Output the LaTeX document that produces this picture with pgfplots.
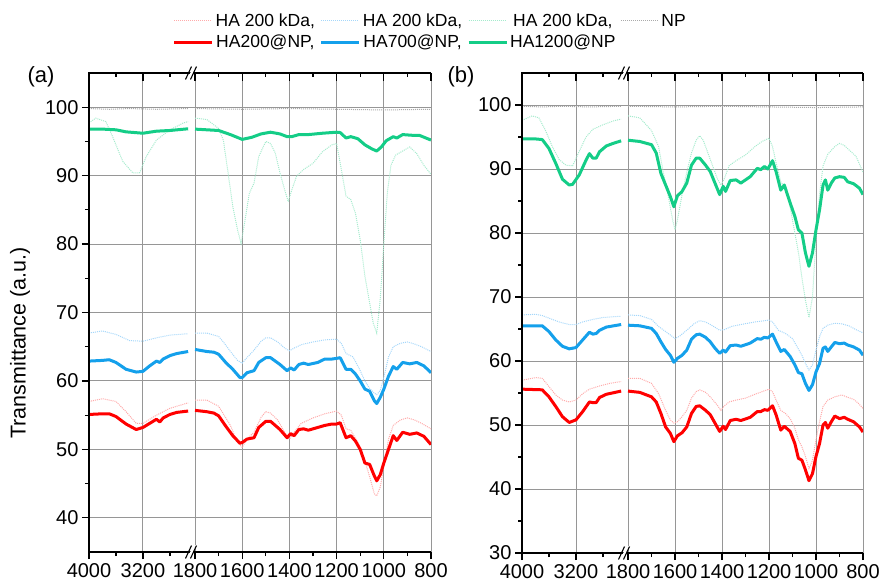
\documentclass[border=0pt]{standalone}
\usepackage{fontspec}
\setmainfont{Liberation Sans}
\usepackage{pgfplots}
\usepackage{pgfplotstable}
\pgfplotsset{compat=1.18}

\definecolor{cRed}{RGB}{255,0,0}
\definecolor{cBlue}{RGB}{20,160,235}
\definecolor{cGreen}{RGB}{20,205,135}
\definecolor{cRedL}{RGB}{255,170,170}
\definecolor{cBlueL}{RGB}{165,215,250}
\definecolor{cGreenL}{RGB}{165,235,205}
\definecolor{cGreyL}{RGB}{170,170,170}
\definecolor{gridc}{RGB}{150,150,150}

% ---------------- panel (a) ----------------
\pgfplotstableread{
x y
4000 55.1
3800 55.2
3700 55.2
3600 54.8
3450 53.7
3300 52.9
3200 53.2
3100 53.8
3000 54.4
2950 54.0
2900 54.6
2800 55.1
2700 55.4
2530 55.6
1800 55.7
1750 55.5
1720 55.3
1700 54.9
1670 53.4
1640 52.0
1610 50.9
1600 51.0
1580 51.5
1550 51.7
1530 53.2
1500 54.1
1480 54.1
1460 53.5
1440 52.9
1410 51.7
1395 52.3
1380 52.0
1360 52.9
1340 53.0
1320 52.8
1280 53.2
1250 53.5
1220 53.7
1200 53.7
1185 53.9
1160 51.7
1140 52.0
1120 51.2
1100 50.0
1080 48.0
1060 47.8
1040 46.1
1030 45.4
1015 46.3
1000 48.0
980 50.0
960 52.0
945 51.3
920 52.5
890 52.2
860 52.4
830 51.9
800 50.7
}\aRed

\pgfplotstableread{
x y
4000 62.9
3800 63.0
3700 63.1
3600 62.7
3450 61.7
3300 61.3
3200 61.4
3100 62.2
3000 62.9
2950 62.7
2900 63.2
2800 63.7
2700 64.0
2530 64.3
1800 64.6
1750 64.3
1720 64.2
1700 63.9
1670 62.7
1640 61.7
1610 60.5
1600 60.5
1580 61.2
1550 61.5
1530 62.7
1500 63.4
1480 63.4
1460 62.9
1440 62.4
1410 61.5
1395 61.9
1380 61.6
1360 62.4
1340 62.6
1320 62.4
1280 62.7
1250 63.2
1220 63.2
1200 63.3
1185 63.4
1160 61.7
1140 61.7
1120 61.0
1100 60.0
1080 58.8
1060 58.5
1040 57.1
1030 56.7
1015 57.6
1000 58.8
980 60.7
960 62.1
945 61.7
920 62.7
890 62.5
860 62.7
830 62.2
800 61.2
}\aBlue

\pgfplotstableread{
x y
4000 96.8
3800 96.8
3600 96.7
3450 96.4
3200 96.2
3000 96.5
2800 96.6
2530 96.85
1800 96.8
1700 96.6
1650 96.0
1600 95.3
1560 95.6
1520 96.1
1480 96.35
1440 96.1
1410 95.7
1390 95.7
1360 96.0
1320 96.0
1260 96.2
1200 96.35
1185 96.3
1160 95.5
1140 95.7
1110 95.4
1080 94.5
1050 93.9
1030 93.6
1010 94.2
990 95.1
960 95.7
945 95.5
920 96.0
880 95.9
850 95.9
800 95.2
}\aGreen

\pgfplotstableread{
x y
4000 57.0
3800 57.4
3600 57.0
3450 55.5
3300 53.8
3200 53.8
3000 55.0
2800 56.0
2530 56.8
1800 57.2
1750 57.2
1700 56.3
1650 53.5
1620 51.0
1600 50.3
1580 51.5
1550 52.5
1520 54.7
1500 55.5
1480 55.3
1450 54.3
1420 52.5
1400 51.5
1380 52.5
1350 53.8
1300 54.6
1250 55.2
1200 55.6
1180 55.0
1160 53.0
1140 52.8
1110 51.0
1080 48.3
1060 46.0
1040 43.5
1030 43.2
1015 44.5
1000 47.5
980 51.5
960 53.5
930 54.3
900 54.6
870 54.3
840 53.8
800 53.0
}\aRedL

\pgfplotstableread{
x y
4000 67.0
3800 67.3
3600 66.8
3400 65.9
3200 65.8
3000 66.3
2800 66.7
2530 66.9
1800 67.0
1750 67.0
1700 66.5
1680 65.7
1650 64.3
1620 63.0
1600 62.6
1580 63.4
1550 64.5
1520 65.8
1500 66.3
1480 66.3
1450 65.7
1420 64.8
1400 64.4
1380 64.8
1350 65.3
1300 65.7
1250 66.0
1200 66.1
1180 65.5
1160 64.0
1130 63.5
1100 61.5
1080 60.0
1060 58.9
1040 58.2
1030 58.0
1015 58.6
1000 60.5
980 63.5
960 65.0
930 65.5
900 65.7
870 65.4
840 65.0
800 64.3
}\aBlueL

\pgfplotstableread{
x y
4000 97.7
3900 98.4
3750 97.9
3650 95.7
3500 92.1
3350 90.4
3250 90.4
3150 92.8
3000 95.2
2800 96.7
2600 97.7
2530 97.9
1800 98.4
1750 98.2
1700 96.9
1680 95.2
1660 90.4
1640 85.5
1620 82.1
1605 80.1
1590 83.1
1570 87.4
1550 88.9
1530 92.8
1500 95.0
1480 94.7
1460 93.3
1440 90.4
1420 87.9
1405 86.2
1390 87.9
1370 89.9
1340 90.9
1300 91.8
1260 93.5
1220 94.5
1200 94.7
1180 90.9
1160 87.0
1140 86.5
1120 84.5
1100 80.6
1080 75.3
1060 71.4
1045 68.5
1030 67.0
1015 72.0
1000 80.0
985 87.5
970 91.5
950 93.0
920 93.6
890 94.2
860 93.2
830 91.5
800 90.2
}\aGreenL

% ---------------- panel (b) ----------------
\pgfplotstableread{
x y
4000 55.6
3700 55.5
3600 54.4
3500 52.9
3400 51.3
3300 50.4
3200 50.8
3100 52.1
3000 53.6
2950 53.5
2900 53.5
2850 54.3
2750 54.8
2530 55.3
1800 55.3
1750 55.1
1700 54.4
1680 53.6
1660 51.8
1640 49.7
1620 48.7
1605 47.4
1590 48.3
1570 48.8
1550 49.7
1530 51.8
1510 52.9
1495 53.0
1470 52.3
1450 51.6
1430 50.3
1410 49.0
1395 49.8
1385 49.3
1365 50.7
1340 50.9
1320 50.7
1280 51.2
1250 52.1
1235 52.1
1220 52.4
1205 52.3
1185 53.0
1170 51.6
1150 49.2
1135 49.8
1110 49.0
1090 47.1
1075 44.8
1060 44.5
1045 43.0
1030 41.3
1015 42.4
1000 45.1
985 47.1
970 50.0
960 50.4
950 49.5
935 50.5
920 51.4
900 51.0
880 51.2
865 50.9
840 50.5
815 49.7
800 48.9
}\bRed

\pgfplotstableread{
x y
4000 65.5
3800 65.5
3700 65.5
3600 64.6
3500 63.3
3400 62.3
3300 61.9
3200 62.1
3100 63.3
3000 64.5
2950 64.2
2900 64.3
2850 64.8
2750 65.3
2530 65.7
1800 65.6
1750 65.5
1700 65.1
1680 64.3
1660 63.0
1640 61.8
1620 60.9
1605 59.8
1590 60.4
1570 60.9
1550 61.7
1530 63.4
1510 64.1
1495 64.2
1470 63.7
1450 63.0
1430 62.0
1410 61.2
1395 61.7
1385 61.4
1365 62.4
1340 62.5
1320 62.3
1280 62.8
1250 63.5
1235 63.4
1220 63.7
1205 63.6
1185 64.2
1170 63.0
1150 61.5
1135 61.8
1110 60.7
1090 59.4
1075 58.2
1060 58.0
1045 56.5
1030 55.4
1015 56.3
1000 58.3
985 59.6
970 62.0
960 62.2
950 61.5
935 62.2
920 62.9
900 62.7
880 62.8
865 62.5
840 62.2
815 61.7
800 60.9
}\bBlue

\pgfplotstableread{
x y
4000 94.7
3800 94.7
3700 94.6
3600 93.2
3500 90.9
3400 88.4
3300 87.5
3250 87.6
3150 89.1
3050 91.4
3000 92.4
2950 91.7
2900 91.7
2850 92.7
2750 93.6
2650 94.0
2530 94.4
1800 94.5
1750 94.3
1700 93.8
1680 92.5
1660 89.3
1640 87.5
1620 85.7
1605 84.1
1590 85.8
1570 86.5
1550 87.8
1530 90.6
1510 91.7
1495 91.7
1470 90.6
1450 89.6
1430 87.8
1410 86.0
1395 87.3
1385 86.5
1365 88.2
1340 88.3
1320 87.8
1280 88.8
1250 90.1
1235 89.9
1220 90.4
1205 90.0
1185 91.3
1170 89.6
1150 86.7
1135 87.5
1110 84.7
1090 82.6
1075 80.5
1060 80.0
1045 76.9
1030 74.8
1015 76.9
1000 80.5
985 83.6
970 87.5
960 88.3
950 86.7
935 87.8
920 88.6
900 88.8
880 88.7
865 88.0
840 87.7
815 87.0
800 86.0
}\bGreen

\pgfplotstableread{
x y
4000 57.0
3800 57.4
3700 57.3
3600 56.0
3500 54.7
3400 53.9
3300 53.6
3200 53.9
3100 54.9
3000 55.6
2850 56.1
2700 56.5
2530 56.8
1800 57.3
1750 57.3
1700 56.5
1670 54.9
1640 52.3
1620 50.8
1605 50.3
1590 50.5
1570 51.3
1550 52.3
1530 54.2
1510 55.2
1495 55.5
1470 55.1
1450 54.4
1420 53.1
1405 52.3
1390 53.0
1370 53.6
1340 53.9
1300 54.2
1260 54.8
1230 55.2
1200 55.6
1185 55.2
1170 53.9
1150 52.3
1130 51.8
1110 51.0
1090 49.5
1075 47.7
1060 46.6
1045 45.1
1030 43.2
1015 44.5
1000 47.7
985 50.5
970 52.9
950 53.9
920 54.4
890 54.7
870 54.4
840 54.0
820 53.4
800 52.6
}\bRedL

\pgfplotstableread{
x y
4000 67.2
3800 67.3
3700 67.1
3600 66.7
3450 66.1
3300 65.7
3200 65.7
3100 66.1
2950 66.5
2800 66.8
2530 67.0
1800 67.2
1750 67.1
1700 66.5
1670 65.4
1640 64.6
1610 63.8
1600 63.5
1580 63.9
1550 64.8
1520 65.8
1495 66.3
1470 66.1
1440 65.5
1410 64.8
1390 64.9
1360 65.4
1320 65.7
1260 66.1
1200 66.4
1185 66.1
1160 64.8
1130 64.3
1100 63.5
1080 62.2
1060 60.9
1045 59.6
1030 58.6
1015 59.4
1000 61.7
985 63.8
970 65.1
950 65.6
920 65.9
890 65.8
860 65.5
830 64.9
800 64.4
}\bBlueL

\pgfplotstableread{
x y
4000 97.6
3850 98.3
3750 98.0
3650 96.0
3550 93.5
3450 91.5
3350 90.6
3250 90.5
3150 92.8
3050 95.0
2950 96.2
2800 96.9
2650 97.5
2530 97.8
1800 98.3
1750 98.0
1700 96.0
1670 93.5
1650 89.5
1630 86.0
1610 82.0
1600 80.5
1590 82.0
1570 86.0
1550 89.5
1530 92.5
1510 94.5
1495 95.2
1480 94.5
1460 92.5
1440 90.5
1420 88.5
1405 87.5
1390 88.5
1370 90.5
1340 91.3
1300 92.2
1260 93.5
1230 94.3
1200 94.8
1185 93.5
1170 91.0
1150 88.0
1130 87.0
1110 84.0
1090 80.0
1075 77.0
1060 73.0
1045 69.5
1030 66.8
1015 70.0
1000 79.0
985 86.0
970 90.5
950 92.3
920 93.5
900 94.0
880 93.7
860 93.0
830 92.0
800 89.5
}\bGreenL

% bare nanoparticles, shared by both panels
\pgfplotstableread{
x y
4000 99.8
3700 99.7
3400 99.8
3000 99.7
2530 99.8
1800 99.8
1600 99.7
1400 99.8
1200 99.7
1000 99.6
800 99.7
}\npRef

\tikzset{
  axpen/.style={black, line width=1.6pt},
  tickpen/.style={black, line width=1.2pt},
}

\pgfplotsset{
  ftir/.style={
    scale only axis,
    x dir=reverse,
    axis line style={draw=none},
    clip mode=individual,
    tick align=outside,
    xtick pos=bottom, ytick pos=left,
    major tick length=7pt, minor tick length=4pt,
    every tick/.style={black, line width=1.2pt},
    grid=major,
    major grid style={gridc, line width=0.9pt},
    ticklabel style={font=\fontsize{20}{23}\selectfont},
    /pgf/number format/assume math mode=true,
    xticklabel style={yshift=-1pt},
  },
  refR/.style={cRedL, densely dotted, line width=1pt},
  refB/.style={cBlueL, densely dotted, line width=1pt},
  refG/.style={cGreenL, densely dotted, line width=1pt},
  refN/.style={cGreyL, densely dotted, line width=1pt},
  solR/.style={cRed, line width=3pt, line join=round},
  solB/.style={cBlue, line width=3pt, line join=round},
  solG/.style={cGreen, line width=3pt, line join=round},
}

% all seven curves of one panel on one x segment
\newcommand{\curves}[6]{%
  \addplot[refR, restrict x to domain=\dmin:\dmax, forget plot] table {#1};
  \addplot[refB, restrict x to domain=\dmin:\dmax, forget plot] table {#2};
  \addplot[refG, restrict x to domain=\dmin:\dmax, forget plot] table {#3};
  \addplot[refN, restrict x to domain=\dmin:\dmax, forget plot] table {\npRef};
  \addplot[solR, restrict x to domain=\dmin:\dmax, forget plot] table {#4};
  \addplot[solB, restrict x to domain=\dmin:\dmax, forget plot] table {#5};
  \addplot[solG, restrict x to domain=\dmin:\dmax, forget plot] table {#6};
}

\newcommand{\leftframe}{%
  \draw[axpen] (rel axis cs:1,1) -- (rel axis cs:0,1) -- (rel axis cs:0,0) -- (rel axis cs:1,0);
  \pgfplotsinvokeforeach{4000,3200}{\draw[tickpen] (axis cs:##1,105) -- ++(0pt,-8pt);}
  \pgfplotsinvokeforeach{3600,2800}{\draw[tickpen] (axis cs:##1,105) -- ++(0pt,-4pt);}
}
\newcommand{\rightframe}{%
  \draw[axpen] (rel axis cs:0,1) -- (rel axis cs:1,1);
  \draw[axpen] (rel axis cs:0,0) -- (rel axis cs:1,0);
  \pgfplotsinvokeforeach{1800,1600,1400,1200,1000,800}{\draw[tickpen] (axis cs:##1,105) -- ++(0pt,-8pt);}
  \pgfplotsinvokeforeach{1700,1500,1300,1100,900}{\draw[tickpen] (axis cs:##1,105) -- ++(0pt,-4pt);}
}

% "//" break mark centred at (#1,#2)
\newcommand{\breakmark}[2]{%
  \fill[white] (#1-4pt,#2-6pt) -- (#1+2pt,#2+7pt) -- (#1+5pt,#2+7pt) -- (#1-1pt,#2-6pt) -- cycle;
  \draw[black, line width=1.1pt] (#1-6pt,#2-6.5pt) -- (#1+0pt,#2+6.5pt);
  \draw[black, line width=1.1pt] (#1-1pt,#2-6.5pt) -- (#1+5pt,#2+6.5pt);
}

\begin{document}
\begin{tikzpicture}
\useasboundingbox (0pt,0pt) rectangle (881pt,-587pt);

% ===== panel (a), high wavenumbers =====
\begin{axis}[ftir,
  at={(89pt,-552pt)}, anchor=south west,
  width=102.5pt, height=479pt,
  xmin=2480, xmax=4000, ymin=35, ymax=105,
  xtick={4000,3200}, xticklabels={4000,3200},
  minor xtick={3600,2800},
  ytick={40,50,60,70,80,90,100},
  minor ytick={45,55,65,75,85,95},
  legend columns=4,
  legend image code/.code={\draw[#1] (0pt,0pt) -- (38pt,0pt);},
  legend style={draw=none, fill=none, at={(axis description cs:0.815,1.128)}, anchor=north west,
    font=\fontsize{17.5}{21}\selectfont, inner sep=0pt,
    nodes={inner sep=2pt},
    /tikz/row sep=3pt,
    /tikz/every even column/.append style={column sep=3pt}},
]
\def\dmin{2480}\def\dmax{4000}
\addlegendimage{refR}\addlegendentry{HA 200 kDa,}
\addlegendimage{refB}\addlegendentry{HA 200 kDa,}
\addlegendimage{refG}\addlegendentry{HA 200 kDa,}
\addlegendimage{refN}\addlegendentry{NP}
\addlegendimage{solR}\addlegendentry{HA200@NP,}
\addlegendimage{solB}\addlegendentry{HA700@NP,}
\addlegendimage{solG}\addlegendentry{HA1200@NP}
\curves{\aRedL}{\aBlueL}{\aGreenL}{\aRed}{\aBlue}{\aGreen}
\leftframe
\end{axis}

% ===== panel (a), fingerprint region =====
\begin{axis}[ftir,
  at={(191.5pt,-552pt)}, anchor=south west,
  width=239.5pt, height=479pt,
  xmin=800, xmax=1815, ymin=35, ymax=105,
  xtick={1800,1600,1400,1200,1000,800},
  xticklabels={1800,1600,1400,1200,1000,800},
  minor xtick={1700,1500,1300,1100,900},
  ytick={40,50,60,70,80,90,100}, yticklabels={},
  ytick style={draw=none},
]
\def\dmin{790}\def\dmax{1815}
\curves{\aRedL}{\aBlueL}{\aGreenL}{\aRed}{\aBlue}{\aGreen}
\rightframe
\end{axis}

% ===== panel (b), high wavenumbers =====
\begin{axis}[ftir,
  at={(522pt,-553pt)}, anchor=south west,
  width=102.5pt, height=480pt,
  xmin=2480, xmax=4000, ymin=30, ymax=105,
  xtick={4000,3200}, xticklabels={4000,3200},
  minor xtick={3600,2800},
  ytick={30,40,50,60,70,80,90,100},
  minor ytick={35,45,55,65,75,85,95},
]
\def\dmin{2480}\def\dmax{4000}
\curves{\bRedL}{\bBlueL}{\bGreenL}{\bRed}{\bBlue}{\bGreen}
\leftframe
\end{axis}

% ===== panel (b), fingerprint region =====
\begin{axis}[ftir,
  at={(624.5pt,-553pt)}, anchor=south west,
  width=238.5pt, height=480pt,
  xmin=800, xmax=1815, ymin=30, ymax=105,
  xtick={1800,1600,1400,1200,1000,800},
  xticklabels={1800,1600,1400,1200,1000,800},
  minor xtick={1700,1500,1300,1100,900},
  ytick={30,40,50,60,70,80,90,100}, yticklabels={},
  ytick style={draw=none},
]
\def\dmin{790}\def\dmax{1815}
\curves{\bRedL}{\bBlueL}{\bGreenL}{\bRed}{\bBlue}{\bGreen}
\rightframe
\end{axis}

% axis breaks
\breakmark{191.5pt}{-73pt}
\breakmark{191.5pt}{-552pt}
\breakmark{624.5pt}{-73pt}
\breakmark{624.5pt}{-553pt}

% panel tags and the shared y label
\node[font=\fontsize{22}{26}\selectfont] at (41pt,-77pt) {(a)};
\node[font=\fontsize{22}{26}\selectfont] at (461pt,-77pt) {(b)};
\node[rotate=90, font=\fontsize{21.5}{25}\selectfont] at (20pt,-343pt) {Transmittance (a.u.)};
\end{tikzpicture}
\end{document}
